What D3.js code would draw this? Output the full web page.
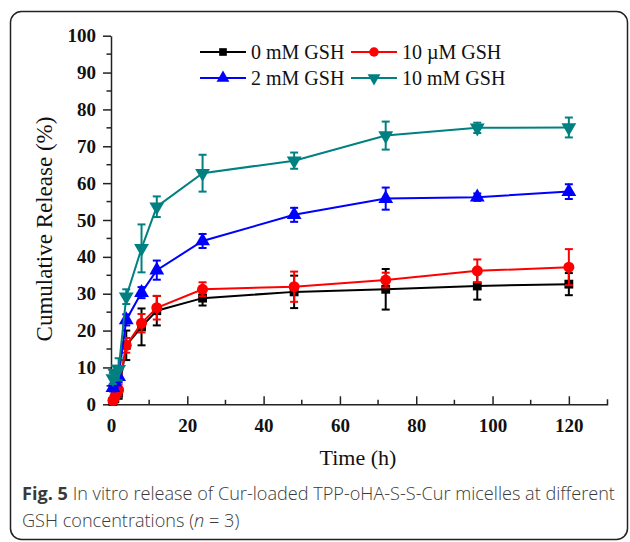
<!DOCTYPE html>
<html><head><meta charset="utf-8">
<script src="https://cdn.jsdelivr.net/npm/d3@7"></script>
<style>html,body{margin:0;padding:0;background:#fff;}svg{display:block;}</style>
</head><body>
<svg id="c" width="630" height="542"></svg>
<script>
const times = [0.5, 1, 2, 4, 8, 12, 24, 48, 72, 96, 120];
const seriesNames = ["0 mM GSH", "10 \u00b5M GSH", "2 mM GSH", "10 mM GSH"];
const gsh0 = [0.8, 1.5, 3.0, 16.0, 21.0, 25.4, 28.8, 30.5, 31.2, 32.1, 32.6];
const gsh0Err = [0.5, 0.8, 1.5, 4.0, 5.0, 4.0, 2.0, 4.4, 5.5, 3.7, 3.0];
const gsh10u = [1.0, 2.0, 3.9, 16.0, 22.0, 26.2, 31.2, 31.9, 33.7, 36.2, 37.2];
const gsh10uErr = [0.6, 1.0, 1.5, 2.0, 2.5, 3.2, 1.9, 4.1, 2.0, 3.1, 4.9];
const gsh2m = [4.5, 6.0, 7.5, 22.9, 30.3, 36.4, 44.3, 51.4, 55.8, 56.2, 57.7];
const gsh2mErr = [1.0, 1.5, 1.5, 1.5, 1.5, 2.6, 1.9, 1.9, 3.0, 1.0, 2.0];
const gsh10m = [7.0, 8.5, 9.5, 29.2, 42.3, 53.6, 62.7, 66.1, 72.9, 75.0, 75.1];
const gsh10mErr = [1.5, 2.0, 3.0, 2.0, 6.5, 2.8, 5.0, 2.2, 3.8, 1.4, 2.7];
const xTicks = [0, 20, 40, 60, 80, 100, 120];
const yTicks = [0, 10, 20, 30, 40, 50, 60, 70, 80, 90, 100];
const xLabel = "Time (h)";
const yLabel = "Cumulative Release (%)";
const captionBold = "Fig. 5";
const captionLine1 = " In vitro release of Cur-loaded TPP-oHA-S-S-Cur micelles at different";
const captionLine2a = "GSH concentrations (";
const captionLine2n = "n";
const captionLine2b = " = 3)";

const colors = ["#000000", "#ff0000", "#0000ff", "#008080"];
const symbols = [d3.symbolSquare, d3.symbolCircle, d3.symbolTriangle, d3.symbolTriangle];
const symRot = [0, 0, 0, 180];
const symSize = [78, 95, 95, 95];
const values = [gsh0, gsh10u, gsh2m, gsh10m];
const errs = [gsh0Err, gsh10uErr, gsh2mErr, gsh10mErr];

const svg = d3.select("#c");
// frame
svg.append("rect").attr("x", 10.5).attr("y", 11.5).attr("width", 617).attr("height", 528)
  .attr("rx", 11).attr("fill", "none").attr("stroke", "#222").attr("stroke-width", 1.5);

const x = d3.scaleLinear().domain([0, 130]).range([111, 607]);
const y = d3.scaleLinear().domain([0, 100]).range([404.3, 35.7]);

const serif = "'Liberation Serif','Times New Roman',serif";

// y axis
const yAxis = svg.append("g").attr("transform", `translate(${x(0)},0)`)
  .call(d3.axisLeft(y).tickValues(yTicks).tickSize(8).tickPadding(7).tickSizeOuter(0));
yAxis.select(".domain").attr("stroke", "#222").attr("stroke-width", 1.5);
yAxis.selectAll(".tick line").attr("stroke", "#222").attr("stroke-width", 1.5);
yAxis.selectAll(".tick text").attr("font-family", serif).attr("font-weight", "bold")
  .attr("font-size", 19).attr("fill", "#111");
const yMinor = d3.range(5, 100, 10);
yAxis.selectAll(".minor").data(yMinor).enter().append("line")
  .attr("x1", -4.5).attr("x2", 0).attr("y1", d => y(d)).attr("y2", d => y(d))
  .attr("stroke", "#222").attr("stroke-width", 1.5);

// x axis (ticks pointing inward)
const xAxis = svg.append("g").attr("transform", `translate(0,${y(0)})`)
  .call(d3.axisBottom(x).tickValues(xTicks).tickSize(-8).tickPadding(14).tickSizeOuter(-5));
xAxis.select(".domain").attr("stroke", "#222").attr("stroke-width", 1.5);
xAxis.selectAll(".tick line").attr("stroke", "#222").attr("stroke-width", 1.5);
xAxis.selectAll(".tick text").attr("font-family", serif).attr("font-weight", "bold")
  .attr("font-size", 19).attr("fill", "#111").attr("dy", "0.71em");
const xMinor = d3.range(10, 130, 20);
xAxis.selectAll(".minor").data(xMinor).enter().append("line")
  .attr("x1", d => x(d)).attr("x2", d => x(d)).attr("y1", 0).attr("y2", -4.5)
  .attr("stroke", "#222").attr("stroke-width", 1.5);

// axis titles
svg.append("text").attr("x", 358).attr("y", 465).attr("text-anchor", "middle")
  .attr("font-family", serif).attr("font-size", 22).attr("fill", "#111").text(xLabel);
svg.append("text").attr("transform", `translate(52,${(115 + 343) / 2}) rotate(-90)`)
  .attr("text-anchor", "middle").attr("font-family", serif).attr("font-size", 23)
  .attr("fill", "#111").text(yLabel);

// series
const line = d3.line().x(d => x(d[0])).y(d => y(d[1]));
values.forEach((vals, i) => {
  const g = svg.append("g");
  const pts = times.map((t, j) => [t, vals[j], errs[i][j]]);
  pts.forEach(p => {
    const cx = x(p[0]);
    g.append("line").attr("x1", cx).attr("x2", cx).attr("y1", y(p[1] - p[2])).attr("y2", y(p[1] + p[2]))
      .attr("stroke", colors[i]).attr("stroke-width", 2);
    [p[1] - p[2], p[1] + p[2]].forEach(v => {
      g.append("line").attr("x1", cx - 4).attr("x2", cx + 4).attr("y1", y(v)).attr("y2", y(v))
        .attr("stroke", colors[i]).attr("stroke-width", 2);
    });
  });
  g.append("path").datum(pts).attr("d", line).attr("fill", "none")
    .attr("stroke", colors[i]).attr("stroke-width", 2);
  g.selectAll(".m").data(pts).enter().append("path")
    .attr("d", d3.symbol().type(symbols[i]).size(symSize[i]))
    .attr("transform", d => `translate(${x(d[0])},${y(d[1])}) rotate(${symRot[i]})`)
    .attr("fill", colors[i]);
});

// legend
const legPos = [[200, 52], [351, 52], [200, 78], [351, 78]];
seriesNames.forEach((name, i) => {
  const [lx, ly] = legPos[i];
  svg.append("line").attr("x1", lx).attr("x2", lx + 46).attr("y1", ly).attr("y2", ly)
    .attr("stroke", colors[i]).attr("stroke-width", 2);
  svg.append("path").attr("d", d3.symbol().type(symbols[i]).size(symSize[i] * 0.75))
    .attr("transform", `translate(${lx + 23},${ly}) rotate(${symRot[i]})`).attr("fill", colors[i]);
  svg.append("text").attr("x", lx + 51).attr("y", ly + 7).attr("font-family", serif)
    .attr("font-size", 20).attr("fill", "#111").text(name);
});

// caption
const sans = "'Open Sans','Noto Sans',sans-serif";
const cap1 = svg.append("text").attr("x", 22).attr("y", 499.5).attr("font-family", sans)
  .attr("font-size", 17.5).attr("fill", "#3a3a3a");
cap1.append("tspan").attr("font-weight", "bold").text(captionBold);
cap1.append("tspan").attr("font-weight", 300).text(captionLine1);
const cap2 = svg.append("text").attr("x", 22).attr("y", 526.5).attr("font-family", sans)
  .attr("font-size", 17.5).attr("fill", "#3a3a3a").attr("font-weight", 300);
cap2.append("tspan").text(captionLine2a);
cap2.append("tspan").attr("font-style", "italic").text(captionLine2n);
cap2.append("tspan").text(captionLine2b);
const w1 = cap1.node().getComputedTextLength();
const fs = 17.5 * 593 / w1;
cap1.attr("font-size", fs);
cap2.attr("font-size", fs);
</script>
</body></html>
